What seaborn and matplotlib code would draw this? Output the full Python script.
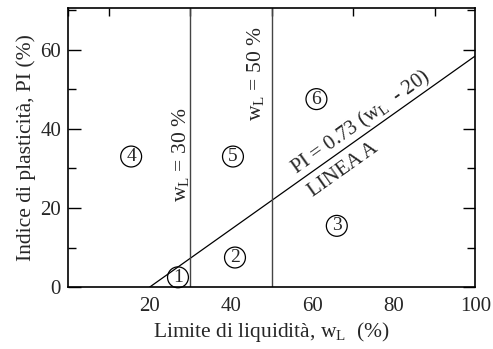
import numpy as np
import matplotlib
matplotlib.use('Agg')
import matplotlib.pyplot as plt
import seaborn as sns

# chart values
a_line_wl = [20, 100]
a_line_pi = [0, 58.4]
wl_limits = [30, 50]
zone_labels = ['1', '2', '3', '4', '5', '6']
zone_wl = [27, 41, 66, 15.5, 40.5, 61]
zone_pi = [2.5, 7.5, 15.5, 33, 33, 47.5]
x_ticks = [20, 40, 60, 80, 100]
y_ticks = [0, 20, 40, 60]

sns.set_theme(style='white')
plt.rcParams['font.family'] = ['Liberation Serif', 'DejaVu Serif']
plt.rcParams['mathtext.fontset'] = 'custom'
plt.rcParams['mathtext.rm'] = 'Liberation Serif'
plt.rcParams['mathtext.it'] = 'Liberation Serif:italic'

fig = plt.figure(figsize=(4.93, 3.49), dpi=100)
ax = fig.add_axes([0.138, 0.177, 0.826, 0.800])

sns.lineplot(x=a_line_wl, y=a_line_pi, color='black', linewidth=0.9, ax=ax)
for wl in wl_limits:
    ax.axvline(wl, color='#444444', linewidth=1.0)

ax.set_xlim(0, 100)
ax.set_ylim(0, 70.5)

# minor ticks every 10 on left/top/right, inward
ax.set_xticks(x_ticks)
ax.set_yticks(y_ticks)
ax.set_xticks(np.arange(0, 101, 10), minor=True)
ax.set_yticks(np.arange(0, 71, 10), minor=True)
ax.tick_params(axis='x', which='both', bottom=False, top=True, direction='in',
               length=6, width=1, color='black', labelsize=15, pad=7)
ax.tick_params(axis='x', which='major', length=0, top=False)
ax.tick_params(axis='y', which='both', left=True, right=True, direction='in',
               width=1, color='black', labelsize=15, pad=5)
ax.tick_params(axis='y', which='major', length=9)
ax.tick_params(axis='y', which='minor', length=6)
ax.tick_params(axis='x', which='minor', top=True, length=6)

for s in ax.spines.values():
    s.set_color('black')
    s.set_linewidth(1.2)

ax.set_xlabel('Limite di liquidità, w$_{\\mathrm{L}}$  (%)', fontsize=15.5, labelpad=3)
ax.set_ylabel('Indice di plasticità, PI (%)', fontsize=15.5, labelpad=3)

ax.text(27.5, 33.5, 'w$_{\\mathrm{L}}$ = 30 %', rotation=90, ha='center', va='center', fontsize=15.5)
ax.text(46, 54, 'w$_{\\mathrm{L}}$ = 50 %', rotation=90, ha='center', va='center', fontsize=15.5)

ang = np.degrees(np.arctan(0.73))
ax.text(72, 41.5, 'PI = 0.73 (w$_{\\mathrm{L}}$  - 20)', rotation=ang, transform_rotates_text=True,
        rotation_mode='anchor', ha='center', va='center', fontsize=15)
ax.text(67.5, 29.5, 'LINEA A', rotation=ang, transform_rotates_text=True,
        rotation_mode='anchor', ha='center', va='center', fontsize=15)

for lab, x, y in zip(zone_labels, zone_wl, zone_pi):
    ax.text(x, y, lab, ha='center', va='center', fontsize=14,
            bbox=dict(boxstyle='circle,pad=0.1', facecolor='none', edgecolor='black', linewidth=0.9))

fig.savefig('out.png', dpi=100)
